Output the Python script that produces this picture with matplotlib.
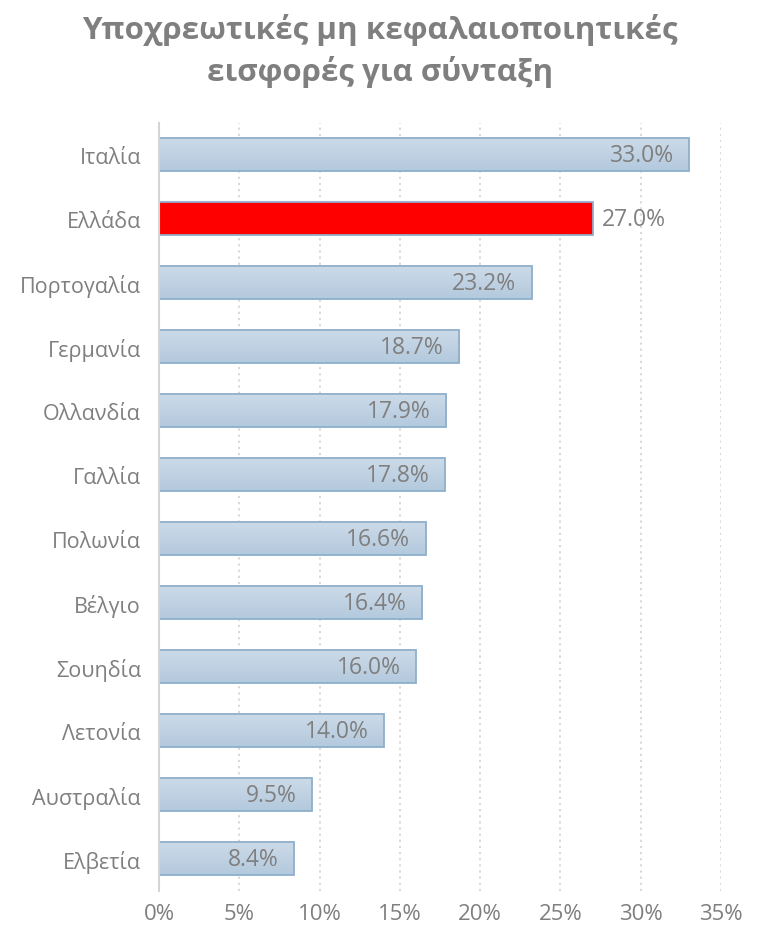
import matplotlib
matplotlib.use("Agg")
import matplotlib.pyplot as plt
import numpy as np

# Δεδομένα
countries = ["Ιταλία", "Ελλάδα", "Πορτογαλία", "Γερμανία", "Ολλανδία", "Γαλλία",
             "Πολωνία", "Βέλγιο", "Σουηδία", "Λετονία", "Αυστραλία", "Ελβετία"]
values = [33.0, 27.0, 23.2, 18.7, 17.9, 17.8, 16.6, 16.4, 16.0, 14.0, 9.5, 8.4]
highlight = "Ελλάδα"
xticks = [0, 5, 10, 15, 20, 25, 30, 35]

plt.rcParams['font.family'] = ['Open Sans', 'DejaVu Sans']
grey = "#7f7f7f"

fig = plt.figure(figsize=(7.6, 9.29), dpi=100)
ax = fig.add_axes([0.2092, 0.040, 0.7395, 0.827])

y = np.arange(len(countries))
bar_h = 0.52
bars = ax.barh(y, values, height=bar_h, color="#c2d4e5", edgecolor="#8fafcb",
               linewidth=1.3, zorder=3)

# gradient στις μπάρες (εκτός από την Ελλάδα)
grad = np.linspace(0, 1, 50).reshape(-1, 1)
cmap = matplotlib.colors.LinearSegmentedColormap.from_list("g", ["#cddbe9", "#b3c9dd"])
for b, c in zip(bars, countries):
    if c == highlight:
        b.set_facecolor("#ff0000")
        continue
    x0, y0 = b.get_x(), b.get_y()
    im = ax.imshow(grad, cmap=cmap, aspect="auto", zorder=3.5,
                   extent=[x0, x0 + b.get_width(), y0 + b.get_height(), y0])
    im.set_clip_path(b)
    b.set_facecolor("none")
    b.set_zorder(4)

# ετικέτες τιμών
for yi, v, c in zip(y, values, countries):
    if c == highlight:
        ax.text(v + 0.55, yi, f"{v:.1f}%", va="center", ha="left",
                fontsize=16.5, color=grey, zorder=5)
    else:
        ax.text(v - 0.95, yi, f"{v:.1f}%", va="center", ha="right",
                fontsize=16.5, color=grey, zorder=5)

ax.set_xlim(0, 35)
ax.set_ylim(len(countries) - 0.5, -0.5)
ax.set_yticks(y)
ax.set_yticklabels(countries)
ax.set_xticks(xticks)
ax.set_xticklabels([f"{t}%" for t in xticks])
ax.tick_params(axis="both", length=0, colors=grey)
ax.tick_params(axis="y", pad=13, labelsize=15.5)
ax.tick_params(axis="x", pad=9, labelsize=16)

ax.grid(axis="x", linestyle=(0, (1.2, 2.2)), color="#d5d5d5", linewidth=1.3, zorder=0)
for s in ["top", "right", "bottom"]:
    ax.spines[s].set_visible(False)
ax.spines["left"].set_color("#d4d4d4")
ax.spines["left"].set_linewidth(1.5)
ax.spines["left"].set_zorder(6)

fig.text(0.5, 1 - 30 / 929, "Υποχρεωτικές μη κεφαλαιοποιητικές", ha="center", va="center",
         fontsize=22.5, fontweight="bold", color=grey)
fig.text(0.5, 1 - 72 / 929, "εισφορές για σύνταξη", ha="center", va="center",
         fontsize=22.5, fontweight="bold", color=grey)

fig.savefig("out.png", dpi=100, facecolor="white")
